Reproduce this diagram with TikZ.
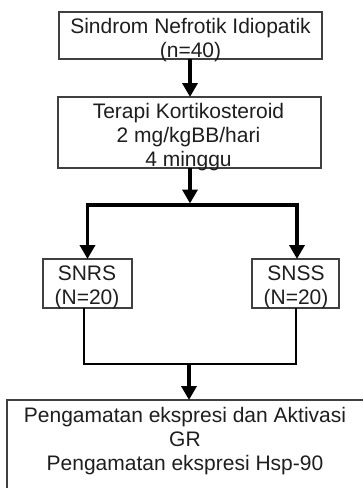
\documentclass[tikz,border=0pt]{standalone}
\usepackage{fontspec}
\setmainfont{Liberation Sans}
\usetikzlibrary{arrows.meta}
\definecolor{boxgray}{HTML}{404040}
\definecolor{txtgray}{HTML}{1E1E1E}
\newcommand\mlines[1]{\begin{tabular}[t]{@{}c@{}}#1\end{tabular}}
\begin{document}
\begin{tikzpicture}[x=1pt,y=-1pt,
  box/.style={draw=boxgray, line width=1.2pt, rectangle, inner sep=0pt, outer sep=0pt},
  txt/.style={anchor=base, inner sep=0pt, text=txtgray, font=\fontsize{21}{24}\selectfont},
  arr/.style={line width=3.5pt, -{Triangle[width=15pt,length=14pt]}},
  thickline/.style={line width=3.5pt},
  thinline/.style={line width=2pt}]
\useasboundingbox (0,0) rectangle (363,488);

% boxes
\node[box, minimum width=263pt, minimum height=47pt] (b1) at (190.5,35.5) {};
\node[box, minimum width=263pt, minimum height=71pt] (b2) at (189.5,132.5) {};
\node[box, minimum width=89pt, minimum height=49pt] (snrs) at (87.5,283.5) {};
\node[box, minimum width=87pt, minimum height=49pt] (snss) at (295.5,283.5) {};
\node[box, minimum width=358pt, minimum height=92pt] (bot) at (186,446) {};

% texts
\node[txt] (t1) at (190.5,33) {\mlines{Sindrom Nefrotik Idiopatik\\(n=40)}};
\node[txt] (t2) at (188.5,118) {\mlines{Terapi Kortikosteroid\\2 mg/kgBB/hari\\4 minggu}};
\node[txt] (t3) at (87,280) {\mlines{SNRS\\(N=20)}};
\node[txt] (t4) at (296,280) {\mlines{SNSS\\(N=20)}};
\node[txt] (t5) at (185,422) {\mlines{Pengamatan ekspresi dan Aktivasi\\GR\\Pengamatan ekspresi Hsp-90}};

% connectors
\coordinate (split) at (190,205);
\coordinate (merge) at (189,364);
\draw[arr] (b1.south -| split) -- (b2.north -| split);
\draw[arr] (b2.south -| split) -- ([yshift=1.5pt]split);
\draw[arr] (split) -| (snrs.north);
\draw[arr] (split) -| ([xshift=1.5pt]snss.north);
\draw[thinline] ([xshift=-4pt]snrs.south) |- (snss.south |- merge) -- (snss.south);
\draw[arr] (merge) -- (bot.north -| merge);
\end{tikzpicture}
\end{document}
